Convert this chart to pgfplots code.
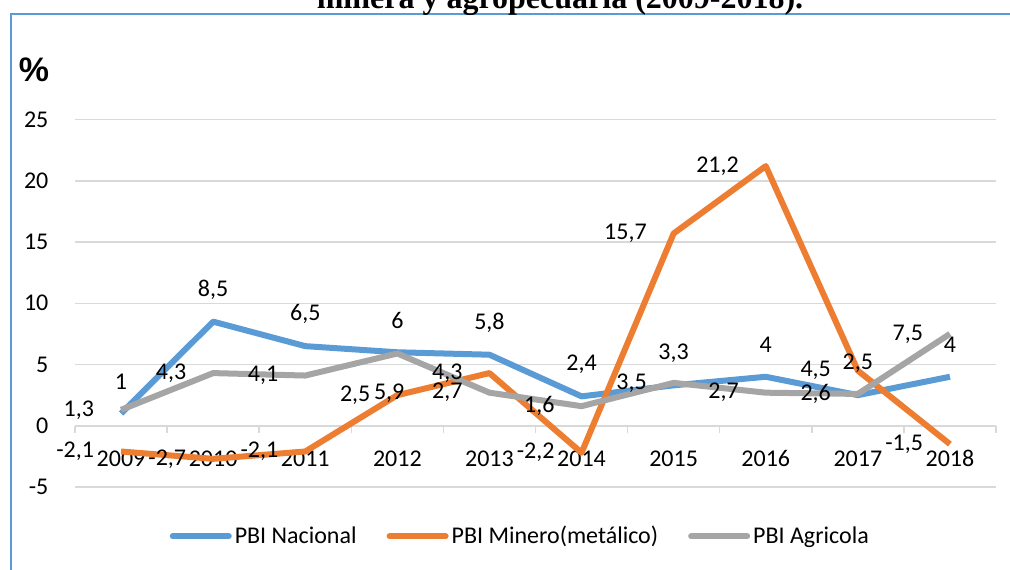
\documentclass[border=0pt]{standalone}
\usepackage{fontspec}
\setmainfont{Carlito}
\newfontfamily\titlefont{Liberation Serif}
\newfontfamily\pctfont{Liberation Sans}
\usepackage{pgfplots}
\usepackage{pgfplotstable}
\pgfplotsset{compat=1.18}
\definecolor{nacblue}{HTML}{5B9BD5}
\definecolor{minorange}{HTML}{ED7D31}
\definecolor{agrgray}{HTML}{A5A5A5}
\definecolor{gridc}{HTML}{D9D9D9}

% x: 0 = 2009 ... 9 = 2018; gdx/gdy = label shift (pt) for the agricola series
\pgfplotstableread{
x  nac  min   agr  gdx  gdy
0  1.0  -2.1  1.3  -12  0
1  8.5  -2.7  4.3  -12  0
2  6.5  -2.1  4.1  -12  0
3  6.0   2.5  5.9    5  -20
4  5.8   4.3  2.7  -12  0
5  2.4  -2.2  1.6  -12  0
6  3.3  15.7  3.5  -12  0
7  4.0  21.2  2.7  -12  0
8  2.5   4.5  2.6  -12  0
9  4.0  -1.5  7.5  -12  0
}\pbidata

\begin{document}
\begin{tikzpicture}
\def\u{0.5pt}
\useasboundingbox (0,0) rectangle ({1010*\u},{-569*\u});
\draw[nacblue, line width=1pt] ({11*\u},{-14*\u}) rectangle ({1040*\u},{-600*\u});
\node[anchor=base, inner sep=0pt, font=\titlefont\bfseries\fontsize{16}{19}\selectfont]
  at ({560*\u},{-8*\u}) {minera y agropecuaria (2009-2018).};
\node[inner sep=0pt, font=\pctfont\bfseries\fontsize{17}{20}\selectfont]
  at ({34*\u},{-70*\u}) {\%};

\begin{axis}[
    at={({75*\u},{-487*\u})}, anchor=south west,
    scale only axis, width={921*\u}, height={367.5*\u},
    xmin=-0.5, xmax=9.5, ymin=-5, ymax=25,
    axis x line=middle, axis y line=left,
    hide obscured x ticks=false, hide obscured y ticks=false,
    x axis line style={-, draw=gridc, line width=0.75pt},
    y axis line style={draw=none},
    xtick={0,...,9},
    xticklabels={2009,2010,2011,2012,2013,2014,2015,2016,2017,2018},
    major x tick style={draw=none},
    minor xtick={-0.5,0.5,...,9.5},
    minor x tick style={draw=gridc, line width=0.75pt},
    minor tick length=3.5pt,
    xtick align=outside,
    ytick={-5,0,...,25}, ytick style={draw=none},
    ymajorgrids, grid style={gridc, line width=0.75pt},
    tick label style={font=\fontsize{12}{14}\selectfont, inner sep=0pt},
    /pgf/number format/assume math mode=true,
    /pgf/number format/use comma,
    xticklabel style={anchor=center, yshift=-12pt},
    yticklabel style={anchor=east, xshift=-11pt},
    clip=false,
    legend style={draw=none, fill=none, at={(0.484,-0.134)}, anchor=center,
      legend columns=-1, font=\fontsize{12}{14}\selectfont,
      nodes={inner sep=1.5pt},
      /tikz/every even column/.append style={column sep=13.5pt}},
    legend image code/.code={\draw[#1, line cap=round] (0pt,0pt) -- (28pt,0pt);},
    every axis plot/.append style={line width=3pt, line join=round},
    nodes near coords,
    every node near coord/.append style={font=\fontsize{12}{14}\selectfont, inner sep=0pt, text=black},
  ]
  \addplot[nacblue, point meta=y,
    every node near coord/.append style={anchor=center, yshift=16pt}]
    table[x=x, y=nac] {\pbidata};
  \addplot[minorange, point meta=y,
    every node near coord/.append style={anchor=east, xshift=-12pt}]
    table[x=x, y=min] {\pbidata};
  \addplot[agrgray, point meta=y,
    visualization depends on={\thisrow{gdx} \as \gdx},
    visualization depends on={\thisrow{gdy} \as \gdy},
    every node near coord/.append style={anchor=east, xshift=\gdx pt, yshift=\gdy pt}]
    table[x=x, y=agr] {\pbidata};
  \legend{PBI Nacional, PBI Minero(metálico), PBI Agricola}
\end{axis}
\end{tikzpicture}
\end{document}
